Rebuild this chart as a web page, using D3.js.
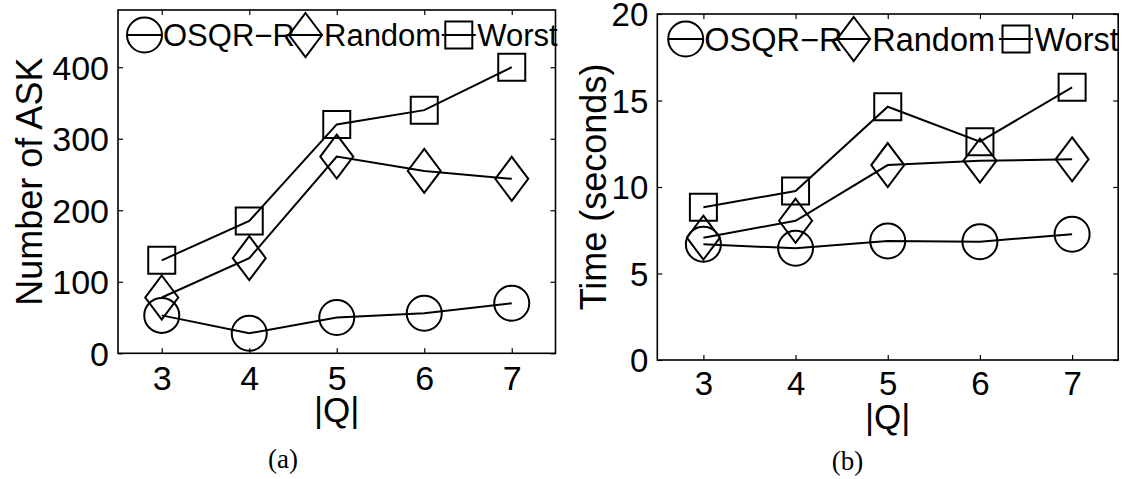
<!DOCTYPE html>
<html>
<head>
<meta charset="utf-8">
<script src="https://cdn.jsdelivr.net/npm/d3@7"></script>
<style>
  html, body { margin: 0; padding: 0; background: #fff; }
  svg { display: block; }
  text { fill: #000; }
</style>
</head>
<body>
<svg id="fig" width="1124" height="479"></svg>
<script>
// |Q| values on the x axis
const qSizes = [3, 4, 5, 6, 7];
const xTickValues = [3, 4, 5, 6, 7];

// Panel (a): number of ASK calls
const askOSQR   = [53, 28, 50, 56, 70];
const askRandom = [78, 133, 275, 255, 244];
const askWorst  = [130, 185, 320, 340, 400];
const askTicks  = [0, 100, 200, 300, 400];

// Panel (b): running time in seconds
const timeOSQR   = [6.69, 6.46, 6.88, 6.84, 7.27];
const timeRandom = [7.07, 8.05, 11.27, 11.52, 11.6];
const timeWorst  = [8.83, 9.77, 14.64, 12.62, 15.76];
const timeTicks  = [0, 5, 10, 15, 20];

const seriesNames = ["OSQR\u2212R", "Random", "Worst"];
const seriesMarkers = ["circle", "diamond", "square"];

const SANS = "'Liberation Sans', Arial, Helvetica, sans-serif";
const SERIF = "'Liberation Serif', 'DejaVu Serif', serif";

const panels = [
  {
    box: { x0: 118, x1: 555.5, y0: 10, y1: 353.3 },
    yMax: 480, yTicks: askTicks,
    series: [askOSQR, askRandom, askWorst],
    yLabel: "Number of ASK", yLabelX: 42,
    tickFont: 34, tickPad: 13, legendFont: 31,
    legendOffsets: [26.5, 187.5, 340.8],
    caption: "(a)", captionX: 283, captionY: 468
  },
  {
    box: { x0: 657.3, x1: 1118.2, y0: 14, y1: 360 },
    yMax: 20, yTicks: timeTicks,
    series: [timeOSQR, timeRandom, timeWorst],
    yLabel: "Time (seconds)", yLabelX: 606,
    tickFont: 33, tickPad: 12, legendFont: 32.5,
    legendOffsets: [28.4, 196.4, 358.7],
    caption: "(b)", captionX: 847.5, captionY: 470
  }
];

const svg = d3.select("#fig");

// marker path generators, centred on (0,0)
function markerPath(kind) {
  if (kind === "circle") {
    const r = 17.5;
    return `M${-r},0A${r},${r} 0 1,0 ${r},0A${r},${r} 0 1,0 ${-r},0Z`;
  }
  if (kind === "diamond") {
    const w = 16.5, h = 22;
    return `M0,${-h}L${w},0L0,${h}L${-w},0Z`;
  }
  const s = 13.5;
  return `M${-s},${-s}L${s},${-s}L${s},${s}L${-s},${s}Z`;
}

panels.forEach(p => {
  const b = p.box;
  const x = d3.scaleLinear().domain([2.5, 7.5]).range([b.x0, b.x1]);
  const y = d3.scaleLinear().domain([0, p.yMax]).range([b.y1, b.y0]);
  const g = svg.append("g");

  // axes with inward ticks
  const bottom = g.append("g").attr("transform", `translate(0,${b.y1})`)
    .call(d3.axisBottom(x).tickValues(xTickValues).tickFormat(d3.format("d"))
      .tickSize(-5).tickSizeOuter(0).tickPadding(p.tickPad));
  const left = g.append("g").attr("transform", `translate(${b.x0},0)`)
    .call(d3.axisLeft(y).tickValues(p.yTicks).tickFormat(d3.format("d"))
      .tickSize(-5).tickSizeOuter(0).tickPadding(9));
  g.append("g").attr("transform", `translate(0,${b.y0})`)
    .call(d3.axisTop(x).tickValues(xTickValues).tickFormat("").tickSize(-5).tickSizeOuter(0));
  g.append("g").attr("transform", `translate(${b.x1},0)`)
    .call(d3.axisRight(y).tickValues(p.yTicks).tickFormat("").tickSize(-5).tickSizeOuter(0));

  g.selectAll(".domain").remove();
  g.selectAll(".tick line").attr("stroke", "#000").attr("stroke-width", 1.2);
  [bottom, left].forEach(a => a.selectAll("text")
    .attr("font-family", SANS).attr("font-size", p.tickFont).attr("fill", "#000"));
  left.selectAll("text").attr("dy", "0.35em");

  // frame
  g.append("rect")
    .attr("x", b.x0).attr("y", b.y0)
    .attr("width", b.x1 - b.x0).attr("height", b.y1 - b.y0)
    .attr("fill", "none").attr("stroke", "#000").attr("stroke-width", 1.6);

  // series lines and markers
  const line = d3.line().x((d, i) => x(qSizes[i])).y(d => y(d));
  p.series.forEach((vals, si) => {
    g.append("path").datum(vals)
      .attr("d", line)
      .attr("fill", "none").attr("stroke", "#000").attr("stroke-width", 2);
    g.selectAll(null).data(vals).enter().append("path")
      .attr("transform", (d, i) => `translate(${x(qSizes[i])},${y(d)})`)
      .attr("d", markerPath(seriesMarkers[si]))
      .attr("fill", "none").attr("stroke", "#000").attr("stroke-width", 2);
  });

  // legend
  const ly = b.y0 + 25;
  seriesNames.forEach((name, si) => {
    const cx = b.x0 + p.legendOffsets[si];
    const item = g.append("g").attr("transform", `translate(${cx},${ly})`);
    item.append("line").attr("x1", -17).attr("x2", 17).attr("y1", 0).attr("y2", 0)
      .attr("stroke", "#000").attr("stroke-width", 2);
    item.append("path").attr("d", markerPath(seriesMarkers[si]))
      .attr("fill", "none").attr("stroke", "#000").attr("stroke-width", 2);
    item.append("text")
      .attr("x", 18.5).attr("y", 0).attr("dy", "0.36em")
      .attr("font-family", SANS).attr("font-size", p.legendFont)
      .text(name);
  });

  // axis titles
  g.append("text")
    .attr("transform", `translate(${p.yLabelX},${(b.y0 + b.y1) / 2}) rotate(-90)`)
    .attr("text-anchor", "middle")
    .attr("font-family", SANS).attr("font-size", 36)
    .text(p.yLabel);
  g.append("text")
    .attr("x", (b.x0 + b.x1) / 2).attr("y", b.y1 + 69)
    .attr("text-anchor", "middle")
    .attr("font-family", SANS).attr("font-size", 35)
    .text("|Q|");

  // sub-figure caption
  g.append("text")
    .attr("x", p.captionX).attr("y", p.captionY)
    .attr("text-anchor", "middle")
    .attr("font-family", SERIF).attr("font-size", 27)
    .text(p.caption);
});
</script>
</body>
</html>
